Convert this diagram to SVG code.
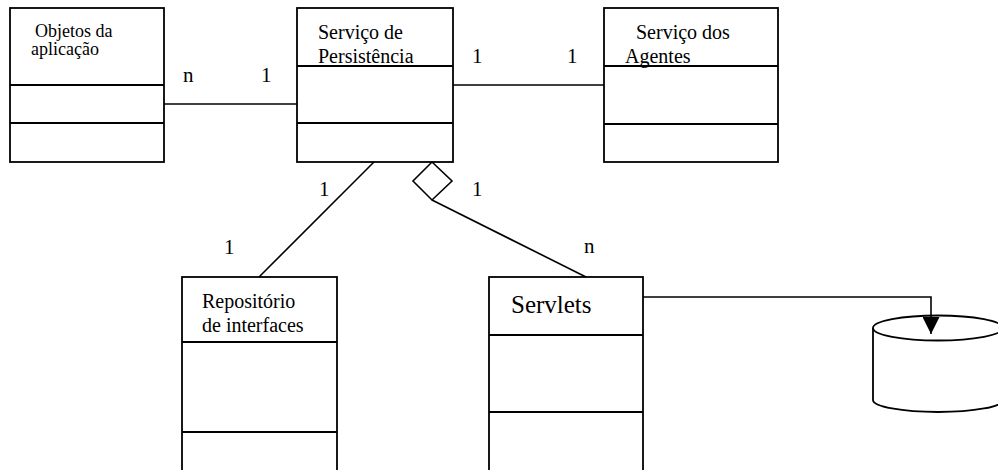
<svg xmlns="http://www.w3.org/2000/svg" width="998" height="470" viewBox="0 0 998 470">
  <style>
    .box { fill: #ffffff; stroke: #000000; stroke-width: 1.8; }
    .div { stroke: #000000; stroke-width: 1.8; }
    .conn { fill: none; stroke: #000000; stroke-width: 1.6; }
    .t { font-family: "Liberation Serif", "Times New Roman", serif; fill: #000000; }
    .lbl { font-family: "Liberation Serif", "Times New Roman", serif; font-size: 21px; fill: #000000; }
  </style>
  <defs>
    <marker id="arrow" viewBox="0 0 10 10" refX="10" refY="5" markerWidth="17" markerHeight="17" markerUnits="userSpaceOnUse" orient="auto">
      <path d="M0,0 L10,5 L0,10 Z" fill="#000000"/>
    </marker>
  </defs>
  <rect width="998" height="470" fill="#ffffff"/>

  <g id="objetos">
    <rect class="box" x="10" y="8" width="154" height="154"/>
    <line class="div" x1="10" y1="85" x2="164" y2="85"/>
    <line class="div" x1="10" y1="123" x2="164" y2="123"/>
    <text class="t" font-size="18" x="35" y="37">Objetos da</text>
    <text class="t" font-size="18" x="31" y="55">aplicação</text>
  </g>

  <g id="persistencia">
    <rect class="box" x="297" y="8" width="156" height="154"/>
    <line class="div" x1="297" y1="66" x2="453" y2="66"/>
    <line class="div" x1="297" y1="123" x2="453" y2="123"/>
    <text class="t" font-size="20" x="318" y="39">Serviço de</text>
    <text class="t" font-size="20" x="318" y="63">Persistência</text>
  </g>

  <g id="agentes">
    <rect class="box" x="604" y="8" width="174" height="154"/>
    <line class="div" x1="604" y1="66" x2="778" y2="66"/>
    <line class="div" x1="604" y1="124" x2="778" y2="124"/>
    <text class="t" font-size="20" x="636" y="39">Serviço dos</text>
    <text class="t" font-size="20" x="625" y="63">Agentes</text>
  </g>

  <g id="repositorio">
    <rect class="box" x="182" y="277" width="155" height="200"/>
    <line class="div" x1="182" y1="342" x2="337" y2="342"/>
    <line class="div" x1="182" y1="432" x2="337" y2="432"/>
    <text class="t" font-size="20" x="202" y="308">Repositório</text>
    <text class="t" font-size="20" x="202" y="332">de interfaces</text>
  </g>

  <g id="servlets">
    <rect class="box" x="489" y="277" width="154" height="200"/>
    <line class="div" x1="489" y1="335" x2="643" y2="335"/>
    <line class="div" x1="489" y1="412" x2="643" y2="412"/>
    <text class="t" font-size="25" x="511" y="313">Servlets</text>
  </g>

  <g id="banco">
    <path class="box" d="M873,328 L873,400 A65,12 0 0 0 1003,400 L1003,328"/>
    <ellipse class="box" cx="938" cy="328" rx="65" ry="12.5"/>
  </g>

  <!-- associations, aggregation and data-store link -->
  <g id="connectors">
    <line class="conn" x1="164" y1="104" x2="297" y2="104"/>
    <line class="conn" x1="453" y1="85" x2="604" y2="85"/>
    <line class="conn" x1="374" y1="162" x2="259" y2="277"/>
    <polygon class="conn" points="432,162 452,181 432,200 413,181" fill="#ffffff"/>
    <line class="conn" x1="432" y1="200" x2="586" y2="277"/>
    <polyline class="conn" points="643,297 931,297 931,334" marker-end="url(#arrow)"/>
    <text class="lbl" x="183" y="82">n</text>
    <text class="lbl" x="261" y="82">1</text>
    <text class="lbl" x="472" y="63">1</text>
    <text class="lbl" x="567" y="63">1</text>
    <text class="lbl" x="319" y="196">1</text>
    <text class="lbl" x="224" y="254">1</text>
    <text class="lbl" x="472" y="196">1</text>
    <text class="lbl" x="584" y="253">n</text>
  </g>
</svg>
